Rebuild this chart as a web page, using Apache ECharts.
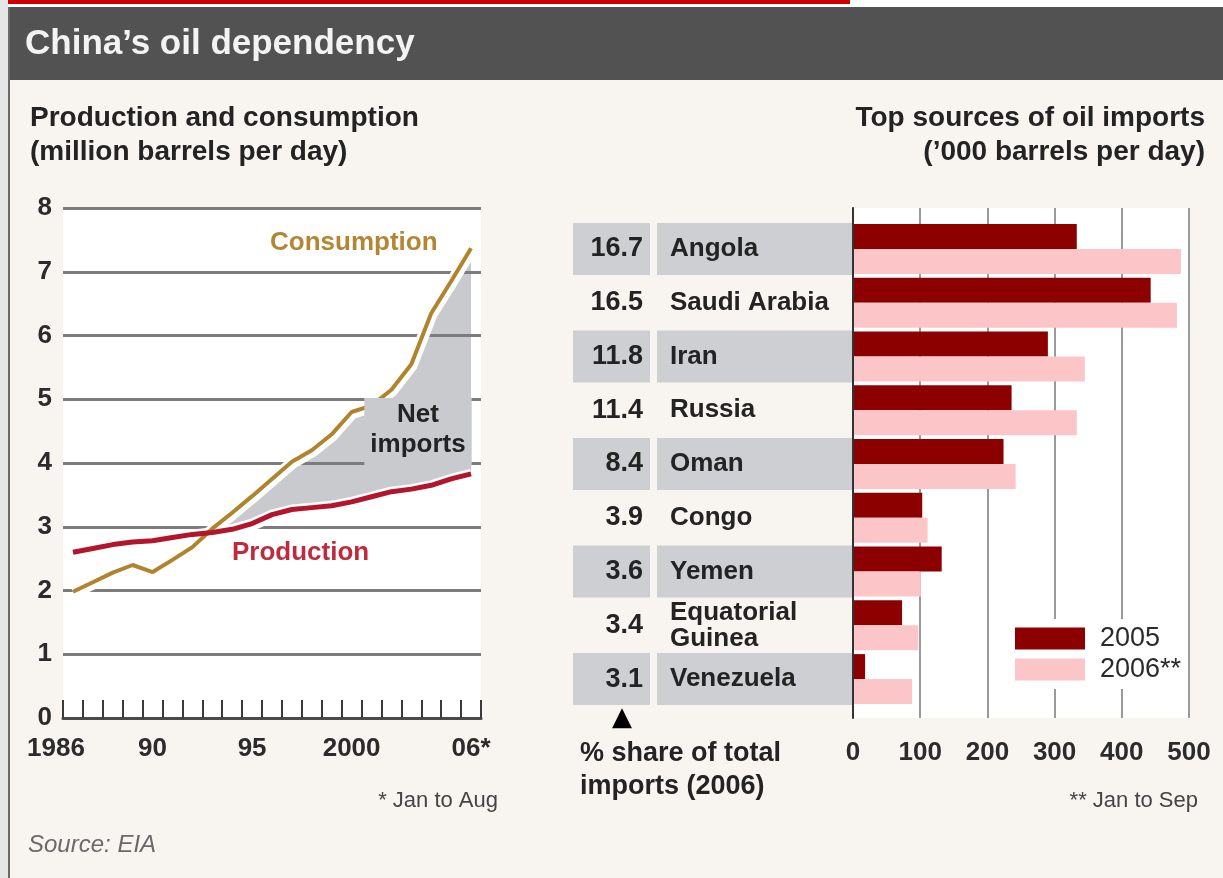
<!DOCTYPE html>
<html><head><meta charset="utf-8">
<script src="https://cdn.jsdelivr.net/npm/echarts@6/dist/echarts.min.js"></script>
<style>html,body{margin:0;padding:0;background:#f8f4f0;}#c{width:1223px;height:878px;}</style>
</head><body><div id="c"></div>
<script>
// ---- data: left chart (million barrels per day) ----
const years = ['1986','1987','1988','1989','1990','1991','1992','1993','1994','1995','1996','1997','1998','1999','2000','2001','2002','2003','2004','2005','2006'];
const consumption = [1.98, 2.13, 2.28, 2.40, 2.29, 2.48, 2.68, 2.97, 3.22, 3.48, 3.75, 4.02, 4.20, 4.45, 4.80, 4.90, 5.15, 5.55, 6.35, 6.85, 7.37];
const production  = [2.60, 2.66, 2.72, 2.76, 2.78, 2.83, 2.88, 2.91, 2.96, 3.05, 3.19, 3.27, 3.30, 3.33, 3.39, 3.47, 3.55, 3.59, 3.65, 3.75, 3.83];
const xLabelYears = ['1986','1990','1995','2000','2006'];
const xLabelTexts = ['1986','90','95','2000','06*'];
// ---- data: right chart ('000 barrels per day) ----
const countries = ['Angola','Saudi Arabia','Iran','Russia','Oman','Congo','Yemen','Equatorial Guinea','Venezuela'];
const countryLabels = ['Angola','Saudi Arabia','Iran','Russia','Oman','Congo','Yemen','Equatorial\nGuinea','Venezuela'];
const share2006 = ['16.7','16.5','11.8','11.4','8.4','3.9','3.6','3.4','3.1'];
const imports2005 = [333, 443, 290, 236, 224, 103, 132, 73, 18];
const imports2006 = [488, 482, 345, 333, 242, 111, 101, 97, 88];

const netImports = consumption.map((c, i) => Math.max(c - production[i], 0));

const FF = "'Liberation Sans', Arial, sans-serif";
const TXT = '#232323';
const ROWGRAY = '#cdcfd2';

const chart = echarts.init(document.getElementById('c'), null, {renderer: 'canvas'});

const option = {
  animation: false,
  backgroundColor: '#f8f4f0',
  textStyle: {fontFamily: FF},
  grid: [
    {left: 63, top: 208, width: 418, height: 510, show: true, backgroundColor: '#ffffff', borderWidth: 0, containLabel: false, outerBoundsMode: 'none', z: 0},
    {left: 853, top: 208, width: 336, height: 510, show: true, backgroundColor: '#ffffff', borderWidth: 0, containLabel: false, outerBoundsMode: 'none', z: 0},
    {left: 853, top: 222, width: 336, height: 484, show: false, containLabel: false, outerBoundsMode: 'none'}
  ],
  xAxis: [
    {
      gridIndex: 0, type: 'category', data: years, boundaryGap: true, z: 4,
      axisLine: {show: true, lineStyle: {color: '#4a4a4a', width: 3}},
      axisTick: {show: true, inside: true, interval: 0, length: 18, lineStyle: {color: '#3a3a3a', width: 2}},
      splitLine: {show: false},
      axisLabel: {
        show: true, margin: 18, interval: (idx, val) => xLabelYears.indexOf(val) >= 0,
        fontSize: 26, fontWeight: 'bold', color: '#2b2b2b', fontFamily: FF,
        formatter: (val) => { const i = xLabelYears.indexOf(val); if (i < 0) return ''; return i === 0 ? '{first|' + xLabelTexts[i] + '}' : xLabelTexts[i]; },
        rich: {first: {fontSize: 26, fontWeight: 'bold', color: '#2b2b2b', fontFamily: FF, padding: [0, 34, 0, 0]}}
      }
    },
    {
      gridIndex: 1, type: 'value', min: 0, max: 500, interval: 100, z: 1,
      axisLine: {show: false}, axisTick: {show: false},
      splitLine: {show: true, lineStyle: {color: '#9a9a9a', width: 2}},
      axisLabel: {show: true, margin: 22, fontSize: 26, fontWeight: 'bold', color: '#2b2b2b', fontFamily: FF}
    },
    {gridIndex: 2, type: 'value', min: 0, max: 500, show: false}
  ],
  yAxis: [
    {
      gridIndex: 0, type: 'value', min: 0, max: 8, interval: 1, z: 2,
      axisLine: {show: false}, axisTick: {show: false},
      splitLine: {show: true, lineStyle: {color: '#7c7c7c', width: 3}},
      axisLabel: {margin: 11, fontSize: 26, fontWeight: 'bold', color: '#2b2b2b', fontFamily: FF}
    },
    {
      gridIndex: 1, type: 'value', min: 0, max: 1, z: 3,
      axisLine: {show: true, onZero: false, lineStyle: {color: '#333', width: 2}},
      axisTick: {show: false}, axisLabel: {show: false}, splitLine: {show: false}
    },
    {
      gridIndex: 2, type: 'category', data: countries, inverse: true, position: 'left',
      axisLine: {show: false}, axisTick: {show: false}, splitLine: {show: false},
      axisLabel: {
        margin: 0, interval: 0,
        formatter: (val, idx) => {
          const lab = countryLabels[idx];
          if (lab.indexOf('\n') >= 0) return lab.split('\n').map(l => '{m|' + l + '}').join('\n');
          return (idx % 2 === 0 ? '{n1|' : '{n0|') + lab + '}';
        },
        rich: {
          n1: {width: 183, height: 52, padding: [0, 0, 0, 13], backgroundColor: ROWGRAY, align: 'left', fontSize: 26, fontWeight: 'bold', color: TXT, fontFamily: FF},
          n0: {width: 183, height: 52, padding: [0, 0, 0, 13], align: 'left', fontSize: 26, fontWeight: 'bold', color: TXT, fontFamily: FF},
          m: {width: 183, lineHeight: 26, padding: [0, 0, 0, 13], align: 'left', fontSize: 26, fontWeight: 'bold', color: TXT, fontFamily: FF}
        }
      }
    },
    {
      gridIndex: 2, type: 'category', data: countries, inverse: true, position: 'left', offset: 203,
      axisLine: {show: false}, axisTick: {show: false}, splitLine: {show: false},
      axisLabel: {
        margin: 0, interval: 0,
        formatter: (val, idx) => (idx % 2 === 0 ? '{s1|' : '{s0|') + share2006[idx] + '}',
        rich: {
          s1: {width: 70, height: 52, padding: [0, 7, 0, 0], backgroundColor: ROWGRAY, align: 'right', fontSize: 27, fontWeight: 'bold', color: TXT, fontFamily: FF},
          s0: {width: 70, height: 52, padding: [0, 7, 0, 0], align: 'right', fontSize: 27, fontWeight: 'bold', color: TXT, fontFamily: FF}
        }
      }
    }
  ],
  legend: {
    data: ['2005', '2006**'], orient: 'vertical', left: 1009, top: 619,
    itemWidth: 70, itemHeight: 22, itemGap: 4, icon: 'rect',
    backgroundColor: '#ffffff', padding: 6, selectedMode: false,
    textStyle: {fontSize: 27, color: '#2b2b2b', fontFamily: FF, padding: [0, 0, 0, 10]}
  },
  series: [
    {name: 'base', type: 'line', xAxisIndex: 0, yAxisIndex: 0, data: production, stack: 'net', symbol: 'none', lineStyle: {opacity: 0, width: 0}, z: 1, silent: true},
    {name: 'Net imports', type: 'line', xAxisIndex: 0, yAxisIndex: 0, data: netImports, stack: 'net', symbol: 'none', lineStyle: {opacity: 0, width: 0}, areaStyle: {color: '#c8cacd', opacity: 1}, z: 1, silent: true},
    {name: 'consHalo', type: 'line', xAxisIndex: 0, yAxisIndex: 0, data: consumption, symbol: 'none', lineStyle: {color: '#ffffff', width: 10, shadowColor: '#ffffff', shadowBlur: 0, shadowOffsetX: 1, shadowOffsetY: 2}, z: 3, silent: true},
    {name: 'prodHalo', type: 'line', xAxisIndex: 0, yAxisIndex: 0, data: production, symbol: 'none', lineStyle: {color: '#ffffff', width: 10, shadowColor: '#ffffff', shadowBlur: 0, shadowOffsetX: 1, shadowOffsetY: 2}, z: 3, silent: true},
    {name: 'Consumption', type: 'line', xAxisIndex: 0, yAxisIndex: 0, data: consumption, symbol: 'none', lineStyle: {color: '#b0842c', width: 4}, z: 3, silent: true},
    {name: 'Production', type: 'line', xAxisIndex: 0, yAxisIndex: 0, data: production, symbol: 'none', lineStyle: {color: '#b3152c', width: 5}, z: 3, silent: true},
    {name: '2005', type: 'bar', xAxisIndex: 2, yAxisIndex: 2, data: imports2005, barWidth: 25, barGap: '0%', itemStyle: {color: '#8c0000'}, z: 2, silent: true},
    {name: '2006**', type: 'bar', xAxisIndex: 2, yAxisIndex: 2, data: imports2006, barWidth: 25, barGap: '0%', itemStyle: {color: '#fcc5c8'}, z: 2, silent: true}
  ],
  graphic: [
    {type: 'rect', shape: {x: 0, y: 0, width: 1223, height: 7}, style: {fill: '#ffffff'}, z: 20, silent: true},
    {type: 'rect', shape: {x: 0, y: 0, width: 850, height: 4}, style: {fill: '#d10000'}, z: 21, silent: true},
    {type: 'rect', shape: {x: 0, y: 0, width: 8, height: 878}, style: {fill: '#e6e6e6'}, z: 21, silent: true},
    {type: 'rect', shape: {x: 8, y: 7, width: 2, height: 871}, style: {fill: '#6a6a6a'}, z: 21, silent: true},
    {type: 'rect', shape: {x: 10, y: 7, width: 1213, height: 73}, style: {fill: '#525252'}, z: 20, silent: true},
    {type: 'text', z: 22, silent: true, style: {x: 25, y: 44, text: 'China\u2019s oil dependency', fill: '#f3f3f3', font: 'bold 35px ' + FF, textVerticalAlign: 'middle'}},
    {type: 'text', z: 22, silent: true, style: {x: 30, y: 101, text: 'Production and consumption\n(million barrels per day)', fill: TXT, font: 'bold 28px ' + FF, lineHeight: 34}},
    {type: 'text', z: 22, silent: true, style: {x: 1205, y: 101, text: 'Top sources of oil imports\n(\u2019000 barrels per day)', fill: TXT, font: 'bold 28px ' + FF, lineHeight: 34, textAlign: 'right'}},
    {type: 'text', z: 22, silent: true, style: {x: 270, y: 243, text: 'Consumption', fill: '#b38633', font: 'bold 26px ' + FF, textVerticalAlign: 'middle'}},
    {type: 'text', z: 22, silent: true, style: {x: 232, y: 553, text: 'Production', fill: '#bf2a3d', font: 'bold 26px ' + FF, textVerticalAlign: 'middle'}},
    {type: 'text', z: 22, silent: true, style: {x: 418, y: 398, text: 'Net\nimports', fill: TXT, font: 'bold 26px ' + FF, lineHeight: 30, textAlign: 'center', backgroundColor: '#c8cacd', padding: [2, 6, 6, 6]}},
    {type: 'text', z: 22, silent: true, style: {x: 622, y: 718, text: '\u25B2', fill: '#000', font: '26px DejaVu Sans', textAlign: 'center', textVerticalAlign: 'middle'}},
    {type: 'text', z: 22, silent: true, style: {x: 580, y: 737, text: '% share of total\nimports (2006)', fill: TXT, font: 'bold 27px ' + FF, lineHeight: 33}},
    {type: 'text', z: 22, silent: true, style: {x: 498, y: 801, text: '* Jan to Aug', fill: '#444', font: '22px ' + FF, textAlign: 'right', textVerticalAlign: 'middle'}},
    {type: 'text', z: 22, silent: true, style: {x: 1198, y: 801, text: '** Jan to Sep', fill: '#444', font: '22px ' + FF, textAlign: 'right', textVerticalAlign: 'middle'}},
    {type: 'text', z: 22, silent: true, style: {x: 28, y: 845, text: 'Source: EIA', fill: '#6a6a6a', font: 'italic 24px ' + FF, textVerticalAlign: 'middle'}}
  ]
};
chart.setOption(option);
</script></body></html>
